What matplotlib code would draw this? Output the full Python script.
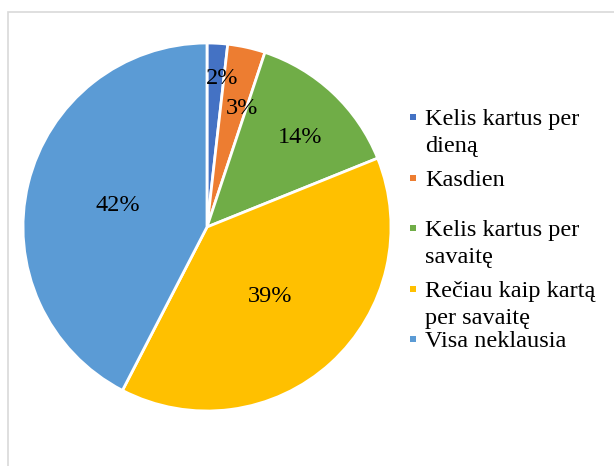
"""Pie chart of listening frequency."""
import matplotlib.pyplot as plt
import numpy as np
from matplotlib.patches import Rectangle

# data
categories = [
    "Kelis kartus per\ndieną",
    "Kasdien",
    "Kelis kartus per\nsavaitę",
    "Rečiau kaip kartą\nper savaitę",
    "Visa neklausia",
]
shares = [1.8, 3.3, 13.8, 38.7, 42.4]
colors = ["#4472C4", "#ED7D31", "#70AD47", "#FFC000", "#5B9BD5"]

# label placement (fraction of radius, extra angle in degrees clockwise)
label_dist = [0.81, 0.67, 0.70, 0.51, 0.50]
label_shift = [2.5, 4.0, 3.0, 0.0, 0.0]

W, H = 614, 466
plt.rcParams["font.family"] = ["Liberation Serif", "DejaVu Serif"]
fig = plt.figure(figsize=(W / 100, H / 100), dpi=100)

# chart area border (runs off the right and bottom edges)
fig.add_artist(
    Rectangle((7.5 / W, -0.1), 1.0, 1.1 - 11.5 / H, transform=fig.transFigure,
              fill=False, edgecolor="#D9D9D9", linewidth=1.2)
)

cx, cy, r = 207, 227, 184
ax = fig.add_axes([(cx - r) / W, (H - cy - r) / H, 2 * r / W, 2 * r / H])
wedges, _ = ax.pie(
    shares,
    colors=colors,
    startangle=90,
    counterclock=False,
    wedgeprops={"edgecolor": "white", "linewidth": 2.0},
)
ax.set_xlim(-1, 1)
ax.set_ylim(-1, 1)

# percentage labels
for w, val, d, s in zip(wedges, shares, label_dist, label_shift):
    mid = np.deg2rad((w.theta1 + w.theta2) / 2 - s)
    ax.text(d * np.cos(mid), d * np.sin(mid), f"{val:.0f}%",
            ha="center", va="center", fontsize=17.5)

# legend, drawn by hand so the marker sits on the first line
first_baselines = [125, 186, 236, 297, 347]
line_gap = 27
for label, col, yb in zip(categories, colors, first_baselines):
    fig.add_artist(
        Rectangle((410 / W, 1 - (yb - 5) / H), 6 / W, 6 / H,
                  transform=fig.transFigure, facecolor=col, edgecolor="none")
    )
    for i, line in enumerate(label.split("\n")):
        fig.text(425 / W, 1 - (yb + i * line_gap) / H, line,
                 ha="left", va="baseline", fontsize=17.5)

fig.savefig("out.png", dpi=100)
